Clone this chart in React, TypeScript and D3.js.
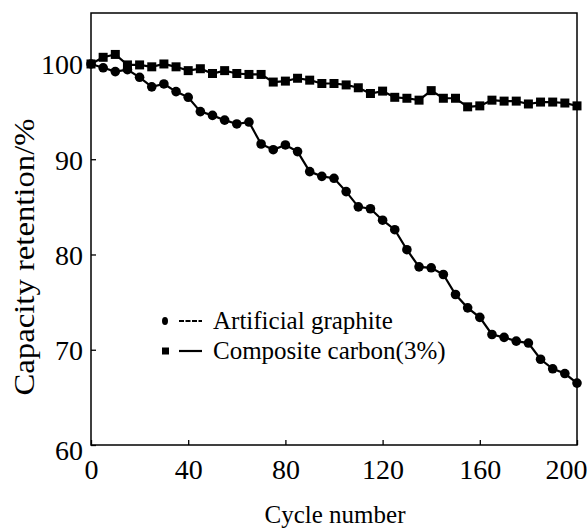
import React, { useEffect, useRef } from 'react'
import * as d3 from 'd3'

// capacity retention (%) every 5 cycles
const cycles = d3.range(0, 201, 5)

const artificialGraphite = [
  100.0, 99.6, 99.2, 99.4, 98.6, 97.6, 97.9, 97.1, 96.5, 95.0,
  94.6, 94.1, 93.7, 93.9, 91.6, 91.0, 91.5, 90.8, 88.7, 88.2,
  88.0, 86.6, 85.0, 84.8, 83.6, 82.6, 80.5, 78.7, 78.6, 77.9,
  75.8, 74.4, 73.4, 71.6, 71.3, 70.9, 70.7, 69.0, 68.0, 67.5,
  66.5,
]

const compositeCarbon = [
  100.0, 100.7, 101.0, 99.9, 99.9, 99.7, 100.0, 99.7, 99.3, 99.5,
  99.0, 99.3, 99.0, 98.9, 98.9, 98.1, 98.2, 98.5, 98.3, 97.95,
  97.95, 97.8, 97.5, 96.9, 97.15, 96.5, 96.4, 96.2, 97.2, 96.4,
  96.4, 95.5, 95.6, 96.2, 96.1, 96.1, 95.8, 96.0, 96.0, 95.9,
  95.6,
]

const xTicks = [0, 40, 80, 120, 160, 200]
const yTicks = [60, 70, 80, 90, 100]

const legendItems = ['Artificial graphite', 'Composite carbon(3%)']

const FONT = '"Liberation Serif", "Times New Roman", serif'

function App() {
  const ref = useRef<SVGSVGElement | null>(null)

  useEffect(() => {
    const width = 587,
      height = 529,
      left = 91,
      right = 577,
      top = 13,
      bottom = 445

    const svg = d3.select(ref.current)
    svg.selectAll('*').remove()
    svg.attr('width', width).attr('height', height)

    const x = d3.scaleLinear().domain([0, 200]).range([left, right])
    const y = d3.scaleLinear().domain([60, 105.35]).range([bottom, top])

    // frame
    svg.append('rect')
      .attr('x', left).attr('y', top)
      .attr('width', right - left).attr('height', bottom - top)
      .attr('fill', 'none').attr('stroke', '#000').attr('stroke-width', 1.5)

    // x axis: inward ticks
    const xAxis = d3.axisBottom(x).tickValues(xTicks).tickSizeInner(-5).tickSizeOuter(0).tickPadding(14)
    const gx = svg.append('g').attr('transform', `translate(0,${bottom})`).call(xAxis)
    gx.select('.domain').remove()
    gx.selectAll('line').attr('stroke-width', 1.3)
    gx.selectAll('text')
      .attr('font-family', FONT).attr('font-size', 28).attr('fill', '#000')
    // last label sits on the window edge
    gx.selectAll('text').filter((d: any) => d === 200)
      .attr('text-anchor', 'end').attr('x', width - 577)

    const yAxis = d3.axisLeft(y).tickValues(yTicks).tickSizeInner(-5).tickSizeOuter(0).tickPadding(8)
    const gy = svg.append('g').attr('transform', `translate(${left},0)`).call(yAxis)
    gy.select('.domain').remove()
    gy.selectAll('line').attr('stroke-width', 1.3)
    gy.selectAll('text')
      .attr('font-family', FONT).attr('font-size', 28).attr('fill', '#000')
      .attr('dy', (d: any) => (d === 60 ? '0.52em' : '0.35em'))

    // axis titles
    svg.append('text')
      .attr('x', 335).attr('y', 523)
      .attr('text-anchor', 'middle')
      .attr('font-family', FONT).attr('font-size', 25)
      .text('Cycle number')

    svg.append('text')
      .attr('transform', `translate(34,257) rotate(-90)`)
      .attr('text-anchor', 'middle')
      .attr('font-family', FONT).attr('font-size', 30)
      .attr('textLength', 277).attr('lengthAdjust', 'spacingAndGlyphs')
      .text('Capacity retention/%')

    const line = d3.line<number>()
      .x((_, i) => x(cycles[i]))
      .y((d) => y(d))

    // composite carbon (squares)
    svg.append('path')
      .attr('d', line(compositeCarbon))
      .attr('fill', 'none').attr('stroke', '#000').attr('stroke-width', 2.2)
    svg.append('g').selectAll('rect')
      .data(compositeCarbon)
      .enter().append('rect')
      .attr('x', (_, i) => x(cycles[i]) - 4.5)
      .attr('y', (d) => y(d) - 4.5)
      .attr('width', 9).attr('height', 9)
      .attr('fill', '#000')

    // artificial graphite (circles)
    svg.append('path')
      .attr('d', line(artificialGraphite))
      .attr('fill', 'none').attr('stroke', '#000').attr('stroke-width', 2.2)
    svg.append('g').selectAll('circle')
      .data(artificialGraphite)
      .enter().append('circle')
      .attr('cx', (_, i) => x(cycles[i]))
      .attr('cy', (d) => y(d))
      .attr('r', 4.8)
      .attr('fill', '#000')

    // legend
    const lg = svg.append('g')
    legendItems.forEach((name, i) => {
      const cy = 321 + i * 30
      if (i === 0) {
        lg.append('ellipse').attr('cx', 165).attr('cy', cy).attr('rx', 3).attr('ry', 4).attr('fill', '#000')
        lg.append('line').attr('x1', 179).attr('x2', 202).attr('y1', cy).attr('y2', cy)
          .attr('stroke', '#000').attr('stroke-width', 1.8).attr('stroke-dasharray', '5,1.5')
      } else {
        lg.append('rect').attr('x', 162).attr('y', cy - 3.5).attr('width', 7).attr('height', 7).attr('fill', '#000')
        lg.append('line').attr('x1', 179).attr('x2', 202).attr('y1', cy).attr('y2', cy)
          .attr('stroke', '#000').attr('stroke-width', 2.2)
      }
      lg.append('text')
        .attr('x', 213).attr('y', cy + 8)
        .attr('font-family', FONT).attr('font-size', 25)
        .text(name)
    })
  }, [])

  return (
    <svg
      ref={ref}
      style={{ position: 'absolute', left: 0, top: 0, display: 'block', background: '#fff' }}
    />
  )
}

export default App
